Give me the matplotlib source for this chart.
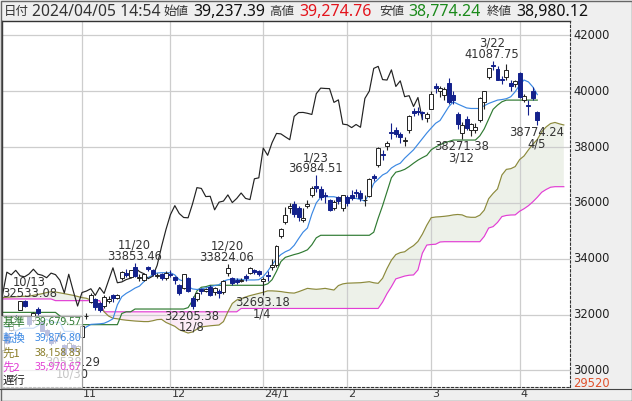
import matplotlib
matplotlib.use("Agg")
import matplotlib.pyplot as plt
from matplotlib.patches import Rectangle
from matplotlib.lines import Line2D
import numpy as np

# Nikkei 225 daily candles, 2023/10/05 - 2024/04/05
dates = [
    "10/05", "10/06", "10/10", "10/11", "10/12", "10/13", "10/16", "10/17", "10/18", "10/19",
    "10/20", "10/23", "10/24", "10/25", "10/26", "10/27", "10/30", "10/31",
    "11/01", "11/02", "11/06", "11/07", "11/08", "11/09", "11/10", "11/13", "11/14", "11/15",
    "11/16", "11/17", "11/20", "11/21", "11/22", "11/24", "11/27", "11/28", "11/29", "11/30",
    "12/01", "12/04", "12/05", "12/06", "12/07", "12/08", "12/11", "12/12", "12/13", "12/14",
    "12/15", "12/18", "12/19", "12/20", "12/21", "12/22", "12/25", "12/26", "12/27", "12/28",
    "12/29",
    "01/04", "01/05", "01/09", "01/10", "01/11", "01/12", "01/15", "01/16", "01/17", "01/18",
    "01/19", "01/22", "01/23", "01/24", "01/25", "01/26", "01/29", "01/30", "01/31",
    "02/01", "02/02", "02/05", "02/06", "02/07", "02/08", "02/09", "02/13", "02/14", "02/15",
    "02/16", "02/19", "02/20", "02/21", "02/22", "02/26", "02/27", "02/28", "02/29",
    "03/01", "03/04", "03/05", "03/06", "03/07", "03/08", "03/11", "03/12", "03/13", "03/14",
    "03/15", "03/18", "03/19", "03/21", "03/22", "03/25", "03/26", "03/27", "03/28", "03/29",
    "04/01", "04/02", "04/03", "04/04", "04/05",
]
opens = [
    30750, 31300, 31450, 31950, 32180, 32480, 31950, 31800, 32200, 31750,
    31450, 31100, 31100, 31250, 30900, 30800, 30900, 30700,
    31200, 31950, 32450, 32550, 32400, 32300, 32500, 32700, 32600, 33300,
    33500, 33350, 33700, 33300, 33250, 33700, 33600, 33400, 33450, 33300,
    33450, 33350, 33050, 32950, 33300, 32600, 32550, 32900, 32850, 33000,
    32800, 32850, 32800, 33480, 33300, 33250, 33200, 33400, 33500, 33600,
    33550,
    33190, 33420, 33700, 33760, 34800, 35300, 35800, 35950, 35800, 35400,
    35900, 36300, 36600, 36500, 36300, 36100, 35800, 36200, 35800,
    36200, 36300, 36400, 36350, 36100, 36250, 36950, 37350, 37750, 38050,
    38550, 38600, 38450, 38200, 38600, 39300, 39300, 39250, 39050,
    39350, 40200, 40000, 39850, 40300, 39850, 39200, 38500, 39000, 38600,
    38600, 38950, 39600, 40500, 40950, 40800, 40450, 40500, 40300, 40250,
    40650, 39700, 39500, 40000, 39237.39,
]
highs = [
    31150, 31350, 31800, 32000, 32500, 32533.08, 31960, 32080, 32260, 31780,
    31500, 31150, 31300, 31400, 30950, 31050, 30950, 30900,
    31650, 32050, 32760, 32600, 32450, 32700, 32650, 32750, 32750, 33550,
    33650, 33600, 33853.46, 33450, 33500, 33750, 33650, 33500, 33500, 33550,
    33600, 33400, 33100, 33460, 33350, 32650, 32800, 32950, 32950, 33050,
    33000, 32900, 33250, 33824.06, 33350, 33300, 33300, 33450, 33700, 33650,
    33600,
    33350, 33570, 33990, 34500, 35100, 35840, 36000, 36050, 35900, 35800,
    36100, 36600, 36984.51, 36600, 36400, 36150, 36100, 36250, 36300,
    36300, 36450, 36500, 36450, 36300, 36900, 37050, 38000, 37900, 38200,
    38860, 38700, 38550, 38350, 39160, 39380, 39430, 39300, 39250,
    39990, 40300, 40200, 40150, 40472, 39990, 39250, 38900, 39100, 38850,
    38850, 39800, 40010, 40820, 41087.75, 40900, 40550, 40979.36, 40400, 40400,
    40697, 39900, 39700, 40150, 39274.76,
]
lows = [
    30680, 30950, 31400, 31800, 32150, 32260, 31600, 31750, 32000, 31400,
    31150, 30900, 31000, 31150, 30550, 30750, 30538.29, 30600,
    31150, 31850, 32400, 32150, 32100, 32250, 32400, 32450, 32550, 33250,
    33350, 33300, 33350, 33200, 33200, 33550, 33400, 33300, 33250, 33250,
    33350, 33100, 32700, 32900, 32800, 32205.38, 32500, 32750, 32800, 32650,
    32700, 32600, 32750, 33400, 33050, 33100, 33150, 33200, 33450, 33450,
    33400,
    32693.18, 33190, 33600, 33700, 34750, 35250, 35640, 35500, 35350, 35300,
    35800, 36200, 36400, 36100, 36000, 35700, 35750, 35950, 35700,
    35900, 36100, 36200, 36050, 35900, 36200, 36800, 37300, 37550, 37900,
    38300, 38350, 38150, 38050, 38500, 39100, 39150, 39000, 38900,
    39350, 39950, 39800, 39700, 39550, 39550, 38650, 38271.38, 38600, 38400,
    38500, 38900, 39350, 40450, 40750, 40400, 40250, 40400, 40000, 40150,
    39750, 39600, 39150, 39700, 38774.24,
]
closes = [
    31075, 30994, 31746, 31936, 32494, 32315, 31659, 32040, 32042, 31430,
    31259, 30999, 31062, 31269, 30601, 30991, 30697, 30859,
    31601, 31950, 32708, 32271, 32166, 32646, 32568, 32585, 32695, 33519,
    33424, 33585, 33388, 33354, 33452, 33625, 33447, 33408, 33321, 33486,
    33431, 33231, 32775, 33445, 32858, 32307, 32791, 32843, 32926, 32686,
    32970, 32758, 33219, 33675, 33140, 33169, 33254, 33305, 33681, 33539,
    33464,
    33288, 33377, 33763, 34441, 35049, 35577, 35901, 35619, 35477, 35466,
    35963, 36546, 36517, 36226, 36236, 35751, 36026, 36065, 36286,
    36011, 36158, 36354, 36160, 36119, 36863, 36897, 37963, 37703, 38157,
    38487, 38470, 38363, 38262, 39098, 39233, 39239, 39208, 39166,
    39910, 40109, 40097, 40090, 39598, 39688, 38820, 38797, 38695, 38807,
    38707, 39740, 40003, 40815, 40888, 40414, 40398, 40762, 40168, 40369,
    39803, 39838, 39451, 39773, 38980.12,
]

# Ichimoku lines as drawn, one value per bar from 10/05
tenkan = [
    31590, 31540, 31560, 31400, 31490, 31510, 31510, 31510, 31600, 31740,
    31840, 31720, 31720, 31720, 31400, 31400, 31400, 31160, 31450, 31560,
    31650, 31660, 31670, 31690, 31760, 31850, 32350, 32640, 32760, 32850,
    32950, 33020, 33180, 33330, 33420, 33490, 33500, 33500, 33500, 33420,
    33250, 33200, 33000, 32920, 32900, 32920, 32960, 33000, 33040, 33070,
    33200, 33250, 33260, 33270, 33260, 33240, 33240, 33240, 33250, 33360,
    33550, 33780, 34000, 34150, 34250, 34320, 34480, 34720, 34950, 35100,
    35600, 36000, 36200, 36220, 36220, 36220, 36180, 36160, 36160, 36160,
    36160, 36120, 36060, 36330, 36700, 36850, 37000, 37080, 37250, 37350,
    37420, 37600, 37750, 37900, 38100, 38300, 38500, 38680, 38850, 38950,
    39200, 39450, 39620, 39540, 39470, 39400, 39380, 39380, 39380, 39480,
    39560, 39620, 39680, 39700, 39730, 39800, 39980, 40220, 40400, 40330,
    40150, 39877,
]
kijun = [
    32080, 32080, 32080, 32080, 32080, 32080, 32080, 32080, 32080, 32080,
    32080, 32080, 32080, 31950, 31850, 31640, 31640, 31640, 31640, 31640,
    31640, 31640, 31640, 31640, 31640, 31640, 31640, 32040, 32100, 32100,
    32200, 32200, 32200, 32200, 32200, 32200, 32200, 32200, 32200, 32200,
    32200, 32200, 32250, 32500, 32850, 32980, 33000, 33050, 33050, 33050,
    33050, 33050, 33050, 33050, 33050, 33050, 33050, 33050, 33050, 33050,
    33100, 33250, 33550, 33900, 34050, 34100, 34150, 34190, 34250, 34320,
    34500, 34750, 34840, 34840, 34840, 34840, 34840, 34840, 34840, 34840,
    34840, 34840, 34840, 34840, 34950, 35450, 35900, 36400, 36900, 37100,
    37140, 37200, 37300, 37420, 37530, 37620, 37700, 37900, 38000, 38080,
    38150, 38200, 38250, 38250, 38250, 38250, 38250, 38250, 38400, 38650,
    39000, 39350, 39500, 39620, 39680, 39680, 39680, 39680, 39680, 39680,
    39680, 39680,
]
# leading spans run 6 bars past the last candle
senkou1 = [
    32610, 32620, 32630, 32640, 32650, 32655, 32660, 32690, 32720, 32750,
    32790, 32820, 32810, 32780, 32750, 32720, 32690, 32650, 32610, 32585,
    32520, 32440, 32345, 32100, 31950, 31870, 31850, 31820, 31800, 31785,
    31770, 31760, 31750, 31750, 31780, 31820, 31830, 31720, 31650, 31580,
    31460, 31400, 31340, 31380, 31480, 31560, 31580, 31600, 31615, 31628,
    31750, 32100, 32400, 32523, 32570, 32630, 32680, 32720, 32760, 32800,
    32850, 32850, 32840, 32825, 32800, 32780, 32770, 32820, 32880, 32940,
    32920, 32906, 32920, 32940, 32910, 32880, 33040, 33100, 33125, 33130,
    33138, 33142, 33160, 33178, 33140, 33120, 33300, 33650, 33950, 34150,
    34220, 34250, 34370, 34470, 34620, 34880, 35200, 35470, 35495, 35505,
    35520, 35540, 35570, 35585, 35570, 35500, 35484, 35484, 35560, 35740,
    36150, 36340, 36500, 37000, 37200, 37225, 37300, 37550, 37680, 37900,
    38100, 38270, 38548, 38720, 38840, 38880, 38830, 38790,
]
senkou2 = [
    32560, 32560, 32560, 32560, 32560, 32560, 32560, 32560, 32560, 32560,
    32560, 32560, 32500, 32500, 32500, 32500, 32500, 32500, 32500, 32500,
    32500, 32500, 32500, 32100, 32100, 32100, 32100, 32100, 32100, 32100,
    32100, 32100, 32100, 32100, 32100, 32100, 32100, 32100, 32100, 32100,
    32100, 32100, 32100, 32100, 32100, 32100, 32100, 32100, 32100, 32100,
    32100, 32100, 32100, 32100, 32220, 32220, 32220, 32220, 32220, 32220,
    32220, 32220, 32220, 32220, 32220, 32220, 32220, 32220, 32220, 32220,
    32220, 32220, 32220, 32220, 32220, 32220, 32220, 32220, 32220, 32220,
    32220, 32220, 32220, 32220, 32220, 32220, 32450, 32750, 33000, 33280,
    33330, 33380, 33410, 33420, 33600, 34200, 34490, 34510, 34520, 34600,
    34610, 34610, 34610, 34610, 34610, 34610, 34610, 34610, 34610, 34800,
    35100, 35150, 35300, 35510, 35550, 35566, 35570, 35700, 35790, 35900,
    36040, 36200, 36380, 36480, 36560, 36580, 36580, 36580,
]
chikou_shift = 26

high_marks = ["10/13", "11/20", "12/20", "01/23", "03/22"]
low_marks = ["10/30", "12/08", "01/04", "03/12", "04/05"]

price_ticks = [30000, 32000, 34000, 36000, 38000, 40000, 42000]
axis_min_label = 29520
month_labels = ["11", "12", "24/1", "2", "3", "4"]

legend_names = ["基準", "転換", "先1", "先2", "遅行"]
legend_values = ["39,679.57", "39,876.80", "38,158.83", "35,970.67", ""]

header_labels = ["日付", "始値", "高値", "安値", "終値"]
header_values = ["2024/04/05 14:54", "39,237.39", "39,274.76", "38,774.24", "38,980.12"]

# colours
C_KIJUN = "#2f7a32"
C_TENKAN = "#3b88e3"
C_SPAN1 = "#8c8a3c"
C_SPAN2 = "#e23ed4"
C_CHIKOU = "#222222"
C_DOWN = "#13218c"
C_UP_EDGE = "#222222"
C_GRID = "#cdcdcd"
LINE_COLORS = [C_KIJUN, C_TENKAN, "#8a7d28", C_SPAN2, C_CHIKOU]
LW = 0.85

JP = ["Noto Sans CJK JP", "DejaVu Sans"]
NUM = ["Noto Sans", "DejaVu Sans"]

W, H = 632, 401


def fx(px):
    return px / W


def fy(py):
    return 1 - py / H


fig = plt.figure(figsize=(W / 100, H / 100), dpi=100, facecolor="#efefef")
top_px, bot_px, left_px, right_px = 21, 386.5, 2, 570
ax = fig.add_axes([fx(left_px), fy(bot_px), fx(right_px) - fx(left_px), fy(top_px) - fy(bot_px)])
ax.set_facecolor("white")
ax.set_xlim(-0.1, 128.4)
ax.set_ylim(29426, 42512)
ax.set_xticks([])
ax.set_yticks([])
for side in ("left", "top"):
    ax.spines[side].set_color("#333333")
    ax.spines[side].set_linewidth(1.0)
for side in ("right", "bottom"):
    ax.spines[side].set_color("#333333")
    ax.spines[side].set_linewidth(0.8)
    ax.spines[side].set_linestyle((0, (2, 2)))

n = len(dates)
o = np.array(opens, dtype=float)
h = np.array(highs, dtype=float)
l = np.array(lows, dtype=float)
c = np.array(closes, dtype=float)
x = np.arange(n)

# grid
month_starts = [i for i in range(1, n) if dates[i][:2] != dates[i - 1][:2]]
for v in price_ticks:
    ax.axhline(v, color=C_GRID, lw=0.9, zorder=1.5)
for p in month_starts:
    ax.axvline(p, color=C_GRID, lw=0.9, zorder=1.5)

# cloud
xs = np.arange(len(senkou1))
s1 = np.array(senkou1, dtype=float)
s2 = np.array(senkou2, dtype=float)
ax.fill_between(xs, s1, s2, where=s1 >= s2, interpolate=True, color="#edf1e9", lw=0, zorder=1)
ax.fill_between(xs, s1, s2, where=s1 < s2, interpolate=True, color="#fcebf6", lw=0, zorder=1)

ax.plot(xs, s2, color=C_SPAN2, lw=LW, zorder=2)
ax.plot(xs, s1, color=C_SPAN1, lw=LW, zorder=2)
ax.plot(np.arange(len(kijun)), kijun, color=C_KIJUN, lw=LW, zorder=2)
ax.plot(np.arange(len(tenkan)), tenkan, color=C_TENKAN, lw=LW, zorder=2)
ax.plot(x - chikou_shift, c, color=C_CHIKOU, lw=LW, zorder=2)

# candles
up = c >= o
ax.vlines(x[up], l[up], h[up], color=C_UP_EDGE, lw=0.8, zorder=3)
ax.vlines(x[~up], l[~up], h[~up], color=C_DOWN, lw=0.8, zorder=3)
body = np.maximum(np.abs(c - o), 15)
ax.bar(x[up], body[up], bottom=o[up], width=0.9, facecolor="white",
       edgecolor=C_UP_EDGE, lw=0.7, zorder=4)
ax.bar(x[~up], body[~up], bottom=c[~up], width=0.9, facecolor=C_DOWN,
       edgecolor=C_DOWN, lw=0.7, zorder=4)

# high / low marks
PX = 0.72
lab_kw = dict(textcoords="offset points", ha="center", fontsize=8.3,
              color="#333333", zorder=6, family="DejaVu Sans")


def short(d):
    mm, dd = d.split("/")
    return f"{int(mm)}/{int(dd)}"


for m in high_marks:
    i = dates.index(m)
    dx = 5 * PX if i < 10 else -1 * PX
    ax.annotate(f"{h[i]:.2f}", (i, h[i]), xytext=(dx, 3 * PX), va="baseline", **lab_kw)
    ax.annotate(short(m), (i, h[i]), xytext=(dx, 14 * PX), va="baseline", **lab_kw)
for m in low_marks:
    i = dates.index(m)
    ax.annotate(f"{l[i]:.2f}", (i, l[i]), xytext=(-1 * PX, -1 * PX), va="top", **lab_kw)
    ax.annotate(short(m), (i, l[i]), xytext=(-1 * PX, -12 * PX), va="top", **lab_kw)

# right price axis
ytr = ax.get_yaxis_transform()
for v in price_ticks:
    ax.text(1 + 3 / (right_px - left_px), v, f"{v}", transform=ytr, ha="left", va="center",
            fontsize=8.3, color="#222222", family="DejaVu Sans", clip_on=False)
ax.text(1 + 3 / (right_px - left_px), axis_min_label, f"{axis_min_label}", transform=ytr,
        ha="left", va="center", fontsize=8.3, color="#e0502a", family="DejaVu Sans", clip_on=False)

# month labels
xtr = ax.get_xaxis_transform()
for p, lab in zip(month_starts, month_labels):
    ax.text(p + 0.25, -(394 - bot_px) / (bot_px - top_px), lab, transform=xtr, ha="left",
            va="center", fontsize=8, color="#333333", family="DejaVu Sans", clip_on=False)

# frame pieces
fig.add_artist(Line2D([0, 1], [fy(389), fy(389)], color="#444444", lw=0.8))
fig.add_artist(Rectangle((fx(0.5), fy(400.5)), fx(631), 1 - fy(400), fill=False,
                         edgecolor="#666666", lw=1.0))

# header
hx_lab = [4, 163, 269, 379, 487]
hx_val = [32, 193, 299, 408, 516]
val_colors = ["#333333", "#111111", "#e3141c", "#1b8a1b", "#111111"]
for k in range(5):
    fig.text(fx(hx_lab[k]), fy(11.5), header_labels[k], ha="left", va="center",
             fontsize=9, color="#333333", family=JP)
    fig.text(fx(hx_val[k]), fy(11.5), header_values[k], ha="left", va="center",
             fontsize=11.3 if k == 0 else 11.5, color=val_colors[k], family=NUM,
             fontweight="normal" if k == 0 else "bold")

# legend box
fig.add_artist(Rectangle((fx(1), fy(388)), fx(82) - fx(1), fy(316) - fy(388),
                         facecolor="white", alpha=0.72, edgecolor="none", zorder=5))
fig.add_artist(Rectangle((fx(1), fy(388)), fx(82) - fx(1), fy(316) - fy(388),
                         fill=False, edgecolor="#a0a0a0", lw=0.8, zorder=5))
rows = [322.5, 338.5, 353.5, 367.5, 380.5]
for k in range(5):
    fig.text(fx(2.5), fy(rows[k]), legend_names[k], ha="left", va="center",
             fontsize=8.2, color=LINE_COLORS[k], family=JP, zorder=6)
    if legend_values[k]:
        fig.text(fx(81), fy(rows[k]), legend_values[k], ha="right", va="center",
                 fontsize=7.4, color=LINE_COLORS[k], family=NUM, zorder=6)

fig.savefig("out.png", dpi=100, facecolor=fig.get_facecolor())
